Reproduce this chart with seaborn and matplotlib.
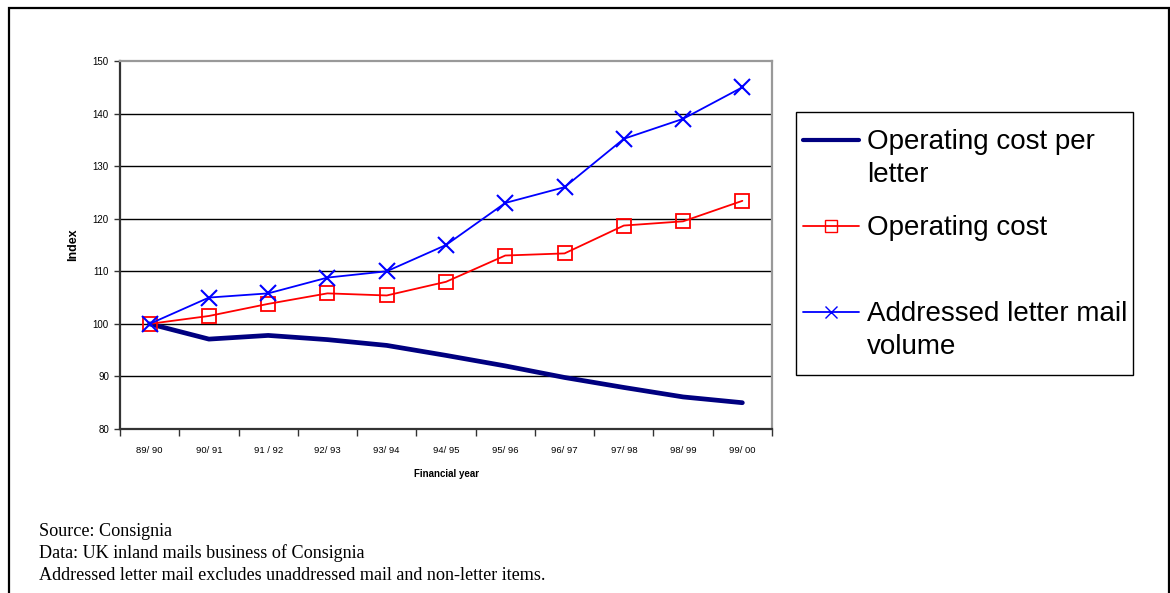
import matplotlib
matplotlib.use("Agg")
import numpy as np
import matplotlib.pyplot as plt
import seaborn as sns
import pandas as pd
from matplotlib.patches import Rectangle
from matplotlib.lines import Line2D
from matplotlib.legend_handler import HandlerLine2D

years = ["89/ 90", "90/ 91", "91 / 92", "92/ 93", "93/ 94", "94/ 95", "95/ 96", "96/ 97", "97/ 98", "98/ 99", "99/ 00"]
cost_per_letter = [100, 97.1, 97.8, 97.0, 95.9, 94.0, 92.0, 89.8, 87.9, 86.1, 85.0]
operating_cost = [100, 101.5, 103.8, 105.8, 105.4, 108.0, 113.0, 113.4, 118.7, 119.5, 123.4]
letter_volume = [100, 105.0, 105.8, 108.8, 110.0, 115.0, 123.0, 126.0, 135.2, 139.0, 145.0]
y_ticks = [80, 90, 100, 110, 120, 130, 140, 150]

sns.set_theme(style="white")
plt.rcParams['font.family'] = ['Liberation Sans', 'DejaVu Sans']
plt.rcParams['text.color'] = 'black'
plt.rcParams['axes.labelcolor'] = 'black'
plt.rcParams['xtick.color'] = 'black'
plt.rcParams['ytick.color'] = 'black'

fig = plt.figure(figsize=(11.7, 5.93), dpi=100)
W, H = 1170, 593
ax = fig.add_axes([120 / W, 1 - 429 / H, (772 - 120) / W, (429 - 61) / H])

df = pd.DataFrame({"year": years, "cpl": cost_per_letter, "oc": operating_cost, "vol": letter_volume})

sns.lineplot(data=df, x="year", y="cpl", ax=ax, color="#000080", linewidth=3.4, sort=False)
sns.lineplot(data=df, x="year", y="oc", ax=ax, color="#ff0000", linewidth=1.3, marker="s",
             markersize=10, markerfacecolor="none", markeredgecolor="#ff0000", markeredgewidth=1.3, sort=False)
sns.lineplot(data=df, x="year", y="vol", ax=ax, color="#0000ff", linewidth=1.3, marker="x",
             markersize=11, markeredgecolor="#0000ff", markeredgewidth=1.5, sort=False)

ax.set_xlim(-0.5, len(years) - 0.5)
ax.set_ylim(80, 150)
ax.set_yticks(y_ticks)
ax.set_yticklabels([str(v) for v in y_ticks], fontsize=7)
ax.set_xticks(range(len(years)))
ax.set_xticklabels(years, fontsize=6.8)
ax.set_xticks([i - 0.5 for i in range(len(years) + 1)], minor=True)
ax.tick_params(axis="x", which="major", length=0, pad=12)
ax.tick_params(axis="x", which="minor", length=5, width=1, color="#333333", direction="out", bottom=True)
ax.tick_params(axis="y", which="major", length=4, width=1, color="#333333", direction="out", left=True, pad=4)

for v in y_ticks[1:-1]:
    ax.axhline(v, color="black", linewidth=1, zorder=0)

ax.spines["left"].set_color("#333333")
ax.spines["left"].set_linewidth(1.6)
ax.spines["bottom"].set_color("#333333")
ax.spines["bottom"].set_linewidth(1.6)
ax.spines["top"].set_color("#999999")
ax.spines["top"].set_linewidth(1.6)
ax.spines["right"].set_color("#999999")
ax.spines["right"].set_linewidth(1.6)

ax.set_xlabel("Financial year", fontsize=7, fontweight="bold", labelpad=10)
ax.set_ylabel("Index", fontsize=9, fontweight="bold", labelpad=10)

LEG_FS = 20
LINESP = 1.37


class UpHandler(HandlerLine2D):
    def __init__(self, dy, **kw):
        super().__init__(**kw)
        self.dy = dy

    def create_artists(self, legend, orig_handle, xdescent, ydescent, width, height, fontsize, trans):
        arts = super().create_artists(legend, orig_handle, xdescent, ydescent, width, height, fontsize, trans)
        for a in arts:
            a.set_ydata(np.asarray(a.get_ydata(), dtype=float) + self.dy)
        return arts


handles = [
    Line2D([], [], color="#000080", linewidth=3),
    Line2D([], [], color="#ff0000", linewidth=1.3, marker="s", markersize=8.5,
           markerfacecolor="none", markeredgecolor="#ff0000"),
    Line2D([], [], color="#0000ff", linewidth=1.3, marker="x", markersize=9, markeredgecolor="#0000ff"),
]
labels = ["Operating cost per\nletter", "Operating cost\n ", "Addressed letter mail\nvolume"]
dy = 0.5 * LEG_FS * LINESP
leg = fig.legend(handles, labels, loc="upper left", bbox_to_anchor=(803 / W, 1 - 129 / H),
                 fontsize=LEG_FS, frameon=False,
                 handlelength=2.0, handletextpad=0.3, labelspacing=0.95, borderpad=0.0,
                 borderaxespad=0,
                 handler_map={h: UpHandler(dy, numpoints=1) for h in handles})
for t in leg.get_texts():
    t.set_linespacing(LINESP)
    t.set_color("black")

# legend frame box
fig.patches.append(Rectangle((796 / W, 1 - 375 / H), (1133 - 796) / W, (375 - 112) / H,
                             transform=fig.transFigure, fill=False, edgecolor="black", linewidth=1.0))

# outer frame
fig.patches.append(Rectangle((9 / W, -0.05), (1169 - 9) / W, 1.05 - 8 / H, transform=fig.transFigure,
                             fill=False, edgecolor="black", linewidth=1.6))

notes = ["Source: Consignia", "Data: UK inland mails business of Consignia",
         "Addressed letter mail excludes unaddressed mail and non-letter items."]
for i, t in enumerate(notes):
    fig.text(39 / W, 1 - (531 + 22 * i) / H, t, fontsize=13.1, family=["Liberation Serif", "DejaVu Serif"],
             va="center", ha="left", color="black")

fig.savefig("out.png", dpi=100)
